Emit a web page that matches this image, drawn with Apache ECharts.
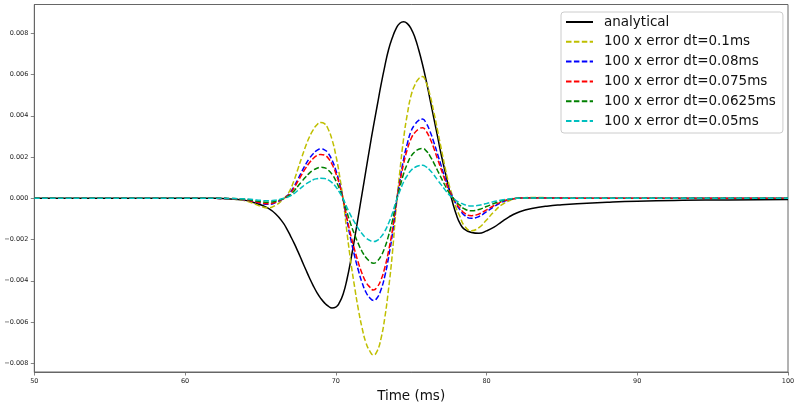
<!DOCTYPE html>
<html>
<head>
<meta charset="utf-8">
<script src="https://cdn.jsdelivr.net/npm/echarts@6.0.0/dist/echarts.min.js"></script>
<style>
html,body{margin:0;padding:0;background:#fff;}
#chart{width:799px;height:404px;}
</style>
</head>
<body>
<div id="chart"></div>
<script>
// Time (ms)
var time = [50,55,58,60,61,62,62.5,63,63.5,64,64.5,65,65.5,66,
66.5,66.75,67,67.25,67.5,67.75,68,68.25,68.5,68.75,69,69.25,69.5,69.75,
70,70.25,70.5,70.75,71,71.25,71.5,71.75,72,72.25,72.5,72.75,73,73.25,73.5,73.75,
74,74.25,74.5,74.75,75,75.25,75.5,75.75,76,76.25,76.5,76.75,77,77.25,77.5,77.75,
78,78.25,78.5,
79,79.5,80,80.5,81,81.5,82,82.5,83,84,85,86,88,90,93,96,100];

var analytical = [0,0,0,0,0,0,-0.00001,-0.00003,-0.00006,-0.0001,-0.00019,-0.00031,-0.00048,-0.00075,
-0.00118,-0.00148,-0.00183,-0.0022,-0.0026,-0.00302,-0.00344,-0.00385,-0.00423,-0.00457,-0.00485,-0.00507,-0.00523,-0.00532,
-0.00528,-0.00505,-0.00462,-0.0039,-0.00298,-0.00194,-0.00085,0.00025,0.00135,0.00245,0.0035,0.0045,0.0055,0.0064,0.0072,0.00778,
0.00823,0.00849,0.00856,0.00847,0.00822,0.0078,0.0072,0.0065,0.0057,0.0048,0.0039,0.003,0.0021,0.0013,0.0005,-0.0002,
-0.0008,-0.00123,-0.00148,
-0.00166,-0.0017,-0.00158,-0.0014,-0.00114,-0.0009,-0.00071,-0.00058,-0.00049,-0.00038,-0.00031,-0.00026,-0.00019,-0.00014,-0.0001,-0.00008,-0.00006];

var errDt0100 = [0,0,0,0,0,0,-0.00001,-0.00003,-0.00006,-0.00012,-0.00024,-0.00038,-0.00046,-0.00034,
-0.00006,0.00014,0.00045,0.0009,0.00145,0.002,0.00252,0.00297,0.00332,0.00357,0.00368,0.00362,0.00335,0.00285,
0.0021,0.0011,-0.00015,-0.0017,-0.0031,-0.0043,-0.0054,-0.0063,-0.007,-0.0074,-0.0076,-0.0074,-0.0068,-0.0058,-0.0044,-0.0027,
-0.0005,0.0013,0.0029,0.0041,0.005,0.0055,0.0058,0.0059,0.0056,0.005,0.0042,0.0033,0.0024,0.0015,0.0007,0.0001,
-0.0005,-0.0009,-0.0013,
-0.00157,-0.00142,-0.00105,-0.00065,-0.00032,-0.00012,0,0.00003,0.00004,0.00003,0.00001,0,0,0,0,0,0];

var errDt0080 = [0,0,0,0,0,0,-0.00001,-0.00002,-0.00004,-0.00008,-0.00015,-0.00024,-0.00029,-0.00021,
-0.00002,0.0001,0.0003,0.00059,0.00094,0.0013,0.00164,0.00193,0.00216,0.00232,0.00239,0.00235,0.00218,0.00185,
0.00137,0.00072,-0.0001,-0.0011,-0.002,-0.0028,-0.0035,-0.0041,-0.00455,-0.00482,-0.00496,-0.00482,-0.00443,-0.00378,-0.00287,-0.00176,
-0.00033,0.00085,0.00189,0.00267,0.00326,0.00358,0.00378,0.00384,0.00364,0.00325,0.00273,0.00215,0.00156,0.00098,0.00046,0.00007,
-0.0003,-0.00056,-0.0008,
-0.00097,-0.00088,-0.00065,-0.0004,-0.0002,-0.00007,0,0.00002,0.00003,0.00002,0.00001,0,0,0,0,0,0];

var errDt0075 = [0,0,0,0,0,0,-0.00001,-0.00002,-0.00003,-0.00007,-0.00014,-0.00022,-0.00026,-0.00019,
-0.00002,0.00008,0.00026,0.00052,0.00084,0.00116,0.00146,0.00172,0.00193,0.00207,0.00213,0.0021,0.00194,0.00165,
0.00122,0.00064,-0.00009,-0.00099,-0.0018,-0.0025,-0.00313,-0.00366,-0.00406,-0.0043,-0.00445,-0.0043,-0.00395,-0.00337,-0.00256,-0.00157,
-0.00029,0.00075,0.00168,0.00238,0.0029,0.00319,0.00336,0.00342,0.00325,0.0029,0.00244,0.00191,0.00139,0.00087,0.00041,0.00006,
-0.00026,-0.00048,-0.0007,
-0.00084,-0.00076,-0.00056,-0.00035,-0.00017,-0.00006,0,0.00002,0.00002,0.00002,0.00001,0,0,0,0,0,0];

var errDt00625 = [0,0,0,0,0,0,0,-0.00001,-0.00002,-0.00005,-0.0001,-0.00016,-0.00019,-0.00014,
-0.00002,0.00006,0.00018,0.00037,0.0006,0.00082,0.00103,0.00122,0.00136,0.00146,0.0015,0.00148,0.00137,0.00117,
0.00086,0.00045,-0.00006,-0.0007,-0.00127,-0.00176,-0.00221,-0.00258,-0.00287,-0.00305,-0.00315,-0.00305,-0.0028,-0.00239,-0.00181,-0.00111,
-0.00021,0.00053,0.00119,0.00168,0.00205,0.00226,0.00238,0.00242,0.0023,0.00205,0.00172,0.00135,0.00098,0.00062,0.00029,0.00004,
-0.00019,-0.00034,-0.0005,
-0.0006,-0.00054,-0.0004,-0.00025,-0.00012,-0.00005,0,0.00001,0.00002,0.00001,0,0,0,0,0,0,0];

var errDt0050 = [0,0,0,0,0,0,0,-0.00001,-0.00002,-0.00003,-0.00006,-0.0001,-0.00012,-0.00009,
-0.00001,0.00004,0.00012,0.00024,0.00039,0.00054,0.00068,0.0008,0.0009,0.00095,0.00097,0.00096,0.00089,0.00076,
0.00056,0.00029,-0.00004,-0.00046,-0.00084,-0.00117,-0.00147,-0.00172,-0.00192,-0.00204,-0.0021,-0.00204,-0.00187,-0.0016,-0.00121,-0.00074,
-0.00014,0.00035,0.00079,0.00111,0.00136,0.0015,0.00158,0.0016,0.00152,0.00136,0.00114,0.00089,0.00065,0.00041,0.00019,0.00003,
-0.00012,-0.00021,-0.0003,
-0.00037,-0.00034,-0.00025,-0.00016,-0.00008,-0.00003,0,0.00001,0.00001,0.00001,0,0,0,0,0,0,0];

var seriesNames = ['analytical','100 x error dt=0.1ms','100 x error dt=0.08ms','100 x error dt=0.075ms','100 x error dt=0.0625ms','100 x error dt=0.05ms'];
var xTicks = [50,60,70,80,90,100];
var yTicks = [-0.008,-0.006,-0.004,-0.002,0,0.002,0.004,0.006,0.008];

function pairs(ys){ return time.map(function(t,i){ return [t, ys[i]]; }); }

var values = [analytical, errDt0100, errDt0080, errDt0075, errDt00625, errDt0050];
var colors = ['#000000','#bfbf00','#0000ff','#ff0000','#008000','#00bfbf'];
var font = 'DejaVu Sans';

var series = values.map(function(v, i){
  return {
    name: seriesNames[i],
    type: 'line',
    data: pairs(v),
    showSymbol: false,
    symbol: 'none',
    smooth: 0.5,
    silent: true,
    lineStyle: {
      color: colors[i],
      width: 1.5,
      type: i === 0 ? 'solid' : [5.5, 2.4]
    },
    itemStyle: {color: colors[i]}
  };
});

var chart = echarts.init(document.getElementById('chart'), null, {renderer:'canvas'});
chart.setOption({
  animation: false,
  backgroundColor: '#ffffff',
  grid: {left: 34.3, right: 11, top: 4.5, bottom: 32, show: true, borderColor: '#666', borderWidth: 1, backgroundColor: 'transparent', outerBoundsMode: 'none'},
  legend: {
    orient: 'vertical', left: 561, top: 12,
    itemWidth: 27, itemHeight: 14, itemGap: 5.8,
    padding: [3, 7, 5, 4],
    backgroundColor: 'rgba(255,255,255,0.8)',
    borderColor: '#cccccc', borderWidth: 1, borderRadius: 3,
    selectedMode: false,
    itemStyle: {color: 'rgba(0,0,0,0)', borderWidth: 0, borderColor: 'rgba(0,0,0,0)', opacity: 0},
    textStyle: {fontSize: 13.5, lineHeight: 14, color: '#111', fontFamily: font, padding: [0,0,0,6]},
    data: seriesNames
  },
  xAxis: {
    type: 'value', min: xTicks[0], max: xTicks[xTicks.length-1], interval: 10,
    name: 'Time (ms)', nameLocation: 'middle', nameGap: 13,
    nameTextStyle: {fontSize: 13.5, color: '#111', fontFamily: font},
    axisLine: {onZero: false, lineStyle: {color: '#666', width: 1}},
    axisTick: {show: true, inside: false, length: 3.5, lineStyle: {color: '#666', width: 0.8}},
    axisLabel: {fontSize: 6.5, color: '#222', fontFamily: font, margin: 6},
    splitLine: {show: false}
  },
  yAxis: {
    type: 'value', min: -0.008422, max: 0.009397,
    axisLine: {show: true, onZero: false, lineStyle: {color: '#666', width: 1}},
    axisTick: {show: true, inside: false, length: 3.5, lineStyle: {color: '#666', width: 0.8}, customValues: yTicks},
    axisLabel: {fontSize: 6.5, color: '#222', fontFamily: font, margin: 6, customValues: yTicks,
      formatter: function(v){ return v.toFixed(3).replace('-', '\u2212'); }},
    splitLine: {show: false}
  },
  series: series
});
</script>
</body>
</html>
